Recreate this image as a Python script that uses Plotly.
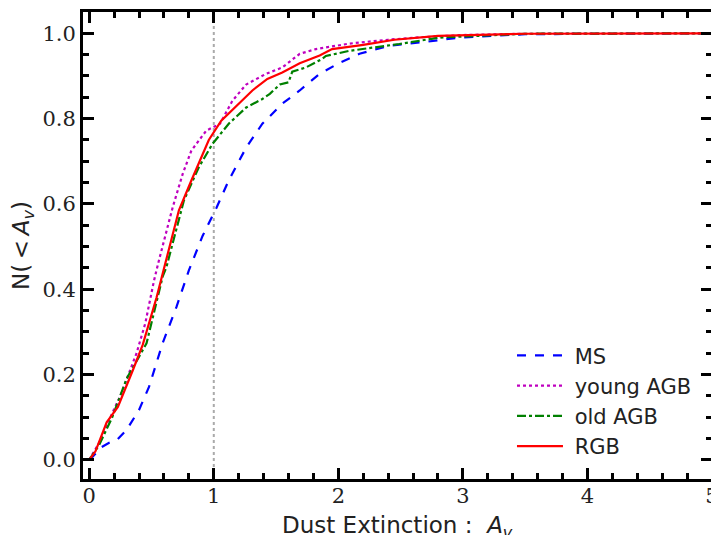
import plotly.graph_objects as go

# ---- data ----
ms_x = [0, 0.02, 0.1, 0.16, 0.225, 0.3, 0.4, 0.48, 0.59, 0.7, 0.8, 0.91, 1.02, 1.12, 1.26, 1.39,
        1.55, 1.69, 1.85, 2.01, 2.17, 2.41, 2.7, 2.97, 3.5, 5]
ms_y = [0, 0.005, 0.03, 0.04, 0.047, 0.07, 0.117, 0.171, 0.274, 0.358, 0.444, 0.525, 0.59, 0.655,
        0.732, 0.788, 0.835, 0.866, 0.905, 0.931, 0.952, 0.971, 0.98, 0.99, 0.998, 1.0]

yagb_x = [0, 0.08, 0.16, 0.25, 0.38, 0.45, 0.52, 0.56, 0.67, 0.75, 0.82, 0.94, 1.05, 1.15, 1.26,
          1.42, 1.55, 1.69, 1.82, 2.09, 2.4, 2.62, 3.0, 3.5, 5]
yagb_y = [0, 0.04, 0.094, 0.15, 0.25, 0.32, 0.42, 0.468, 0.592, 0.67, 0.725, 0.772, 0.788, 0.842,
          0.88, 0.905, 0.92, 0.952, 0.963, 0.976, 0.985, 0.99, 0.996, 0.999, 1.0]

oagb_x = [0, 0.08, 0.185, 0.3, 0.46, 0.59, 0.62, 0.76, 0.88, 0.99, 1.12, 1.26, 1.39, 1.45, 1.53,
          1.6, 1.63, 1.74, 1.87, 1.9, 2.09, 2.49, 2.81, 3.5, 5]
oagb_y = [0, 0.035, 0.1, 0.19, 0.273, 0.43, 0.452, 0.608, 0.686, 0.741, 0.788, 0.826, 0.846, 0.858,
          0.88, 0.885, 0.91, 0.92, 0.94, 0.947, 0.959, 0.975, 0.99, 0.999, 1.0]

rgb_x = [0, 0.05, 0.14, 0.23, 0.35, 0.43, 0.54, 0.6, 0.72, 0.82, 0.9, 0.96, 1.06, 1.18, 1.31, 1.43,
         1.55, 1.69, 1.85, 1.95, 2.2, 2.45, 2.8, 3.5, 5]
rgb_y = [0, 0.02, 0.088, 0.124, 0.21, 0.27, 0.38, 0.45, 0.585, 0.655, 0.71, 0.75, 0.795, 0.83,
         0.866, 0.893, 0.908, 0.93, 0.948, 0.963, 0.973, 0.985, 0.994, 0.999, 1.0]

x_ticks = [0, 1, 2, 3, 4, 5]
y_ticks = [0.0, 0.2, 0.4, 0.6, 0.8, 1.0]
ref_line_x = 1
x_title = "Dust Extinction\u00a0:\u00a0\u00a0<i>A</i><sub><i>v</i></sub>"
y_title = "N(\u2009<\u2009<i>A</i><sub><i>v</i></sub>)"

series = [
    ("MS", ms_x, ms_y, "#0000ff", "dash"),
    ("young AGB", yagb_x, yagb_y, "#bf00bf", "dot"),
    ("old AGB", oagb_x, oagb_y, "#008000", "dashdot"),
    ("RGB", rgb_x, rgb_y, "#ff0000", "solid"),
]

fig = go.Figure()
for name, xs, ys, col, dash in series:
    fig.add_trace(go.Scatter(x=xs, y=ys, mode="lines", name="\u00a0" + name,
                             line=dict(color=col, dash=dash, width=2.2)))

fig.add_shape(type="line", xref="x", yref="paper", x0=ref_line_x, x1=ref_line_x, y0=0, y1=1,
              line=dict(color="#aaaaaa", dash="dot", width=2), layer="below")

axis_common = dict(
    showline=True, linecolor="black", linewidth=3, mirror="allticks",
    ticks="inside", ticklen=11, tickwidth=2.5, tickcolor="black",
    showgrid=False, zeroline=False, automargin=False,
    tickfont=dict(family="DejaVu Serif", size=21, color="#222222"),
)

fig.update_xaxes(range=[-0.05, 5.0001], tickvals=x_ticks, ticktext=[str(v) for v in x_ticks],
                 ticklabelstandoff=-4,
                 minor=dict(dtick=0.2, tick0=0, ticklen=6, tickwidth=2.5, tickcolor="black", ticks="inside"),
                 **axis_common)
fig.update_yaxes(range=[-0.045, 1.05], tickvals=y_ticks, ticktext=[f"{v:.1f}" for v in y_ticks],
                 minor=dict(dtick=0.05, tick0=0, ticklen=6, tickwidth=2.5, tickcolor="black", ticks="inside"),
                 title=dict(text=y_title,
                            font=dict(family="DejaVu Sans", size=23, color="#222222"), standoff=8),
                 **axis_common)

fig.add_annotation(text=x_title, xref="paper", yref="paper", x=0.5, y=0,
                   xanchor="center", yanchor="top", yshift=-31, showarrow=False,
                   font=dict(family="DejaVu Sans", size=23, color="#222222"))

# The page adds an 8 px body margin, so the figure is sized/offset to compensate.
fig.update_layout(
    width=711, height=527,
    margin=dict(l=75, r=7, t=4, b=56),
    plot_bgcolor="white", paper_bgcolor="white",
    showlegend=True,
    legend=dict(x=0.682, y=0.308, xanchor="left", yanchor="top",
                bgcolor="rgba(0,0,0,0)", borderwidth=0,
                font=dict(family="DejaVu Sans", size=21, color="#222222"),
                tracegroupgap=0, itemwidth=46),
)

fig.write_html("out.html")
